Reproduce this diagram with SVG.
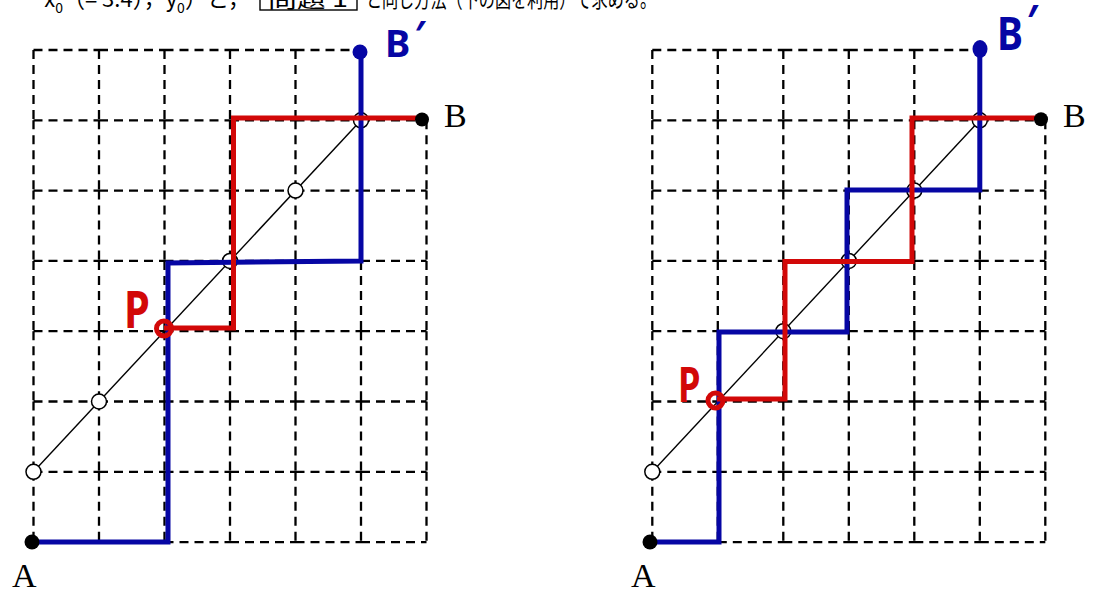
<svg xmlns="http://www.w3.org/2000/svg" xmlns:xlink="http://www.w3.org/1999/xlink" width="1101" height="591" viewBox="0 0 1101 591">
<style>
.grid{fill:none;stroke:#000;stroke-width:2.3;stroke-dasharray:9 6}
.diag{fill:none;stroke:#000;stroke-width:1.4}
.open{fill:#fff;stroke:#000;stroke-width:1.5}
.blue{fill:none;stroke:#0606a4;stroke-width:5;stroke-linejoin:miter}
.red{fill:none;stroke:#d20808;stroke-width:5;stroke-linejoin:miter}
.dot{fill:#000}
.bdot{fill:#0606a4}
.ring{fill:none;stroke:#d20808;stroke-width:5}
.serif{font-family:"Liberation Serif","DejaVu Serif",serif;font-size:34px;fill:#000}
.hand-b{font-family:"Noto Sans","DejaVu Sans",sans-serif;font-weight:bold;fill:#0606a4}
.hand-r{font-family:"Noto Sans","DejaVu Sans",sans-serif;font-weight:bold;fill:#d20808}
.jp{font-family:"Noto Sans CJK JP","Noto Sans",sans-serif;font-size:22px;fill:#000}
</style>
<defs>
<path id="gridpath" class="grid" d="M33.5,50 h65.5 m0,0 h65.5 m0,0 h65.5 m0,0 h65.5 m0,0 h65.5
M33.5,120.3 h65.5 m0,0 h65.5 m0,0 h65.5 m0,0 h65.5 m0,0 h65.5 m0,0 h65.5
M33.5,190.6 h65.5 m0,0 h65.5 m0,0 h65.5 m0,0 h65.5 m0,0 h65.5 m0,0 h65.5
M33.5,260.9 h65.5 m0,0 h65.5 m0,0 h65.5 m0,0 h65.5 m0,0 h65.5 m0,0 h65.5
M33.5,331.2 h65.5 m0,0 h65.5 m0,0 h65.5 m0,0 h65.5 m0,0 h65.5 m0,0 h65.5
M33.5,401.5 h65.5 m0,0 h65.5 m0,0 h65.5 m0,0 h65.5 m0,0 h65.5 m0,0 h65.5
M33.5,471.8 h65.5 m0,0 h65.5 m0,0 h65.5 m0,0 h65.5 m0,0 h65.5 m0,0 h65.5
M33.5,542.1 h65.5 m0,0 h65.5 m0,0 h65.5 m0,0 h65.5 m0,0 h65.5 m0,0 h65.5
M33.5,50 v70.3 m0,0 v70.3 m0,0 v70.3 m0,0 v70.3 m0,0 v70.3 m0,0 v70.3 m0,0 v70.3
M99,50 v70.3 m0,0 v70.3 m0,0 v70.3 m0,0 v70.3 m0,0 v70.3 m0,0 v70.3 m0,0 v70.3
M164.5,50 v70.3 m0,0 v70.3 m0,0 v70.3 m0,0 v70.3 m0,0 v70.3 m0,0 v70.3 m0,0 v70.3
M230,50 v70.3 m0,0 v70.3 m0,0 v70.3 m0,0 v70.3 m0,0 v70.3 m0,0 v70.3 m0,0 v70.3
M295.5,50 v70.3 m0,0 v70.3 m0,0 v70.3 m0,0 v70.3 m0,0 v70.3 m0,0 v70.3 m0,0 v70.3
M361,50 v70.3 m0,0 v70.3 m0,0 v70.3 m0,0 v70.3 m0,0 v70.3 m0,0 v70.3 m0,0 v70.3
M426.5,120.3 v70.3 m0,0 v70.3 m0,0 v70.3 m0,0 v70.3 m0,0 v70.3 m0,0 v70.3"/>
</defs>

<g id="header">
<text class="jp" x="250" y="7" text-anchor="end">x<tspan font-size="14" dy="6">0</tspan><tspan dy="-6">（= 3.4），y</tspan><tspan font-size="14" dy="6">0</tspan><tspan dy="-6">）と，</tspan></text>
<rect x="260" y="-20" width="97" height="30" fill="none" stroke="#000" stroke-width="1.4"/>
<text class="jp" x="268" y="7" textLength="80" lengthAdjust="spacingAndGlyphs">問題 1</text>
<text class="jp" x="366" y="7" textLength="290" lengthAdjust="spacingAndGlyphs">と同じ方法（下の図を利用）で求める。</text>
</g>

<g id="grid-left"><use xlink:href="#gridpath" href="#gridpath"/></g>
<g id="grid-right"><use xlink:href="#gridpath" href="#gridpath" transform="translate(618.8,0)"/></g>

<g id="connectors">
<line class="diag" x1="33.5" y1="471.8" x2="361" y2="120.3"/>
<line class="diag" x1="652.3" y1="471.8" x2="979.8" y2="120.3"/>
</g>

<g id="diagonal-points-left">
<circle class="open" cx="33.5" cy="471.8" r="7.5"/>
<circle class="open" cx="99" cy="401.5" r="7.5"/>
<circle class="open" cx="230" cy="260.9" r="7.5"/>
<circle class="open" cx="295.5" cy="190.6" r="7.5"/>
<circle class="open" cx="361" cy="120.3" r="7.5"/>
</g>
<g id="diagonal-points-right">
<circle class="open" cx="652.3" cy="471.8" r="7.5"/>
<circle class="open" cx="783.3" cy="331.2" r="7.5"/>
<circle class="open" cx="848.8" cy="260.9" r="7.5"/>
<circle class="open" cx="914.3" cy="190.6" r="7.5"/>
<circle class="open" cx="979.8" cy="120.3" r="7.5"/>
</g>

<g id="paths">
<path class="blue" d="M33.5,542 H168 V263 L361,261 V52"/>
<path class="red" d="M423,118 H233.5 V328 H164"/>
<path class="blue" d="M651,542 H719 V332 H847 V190 H979.8 V50"/>
<path class="red" d="M1041,118 H912 V261.5 H785 V399 H717"/>
</g>

<g id="node-A-left"><circle class="dot" cx="32" cy="542" r="7.5"/><text class="serif" x="12" y="587">A</text></g>
<g id="node-B-left"><circle class="dot" cx="422" cy="119.5" r="7"/><text class="serif" x="444" y="127">B</text></g>
<g id="node-Bp-left"><circle class="bdot" cx="360" cy="52" r="7.5"/><text class="hand-b" x="385" y="57" font-size="38">B<tspan dx="4" dy="-9">′</tspan></text></g>
<g id="node-P-left"><circle class="ring" cx="164" cy="328.5" r="7.5"/><text class="hand-r" transform="translate(124,328) scale(0.8,1)" font-size="52">P</text></g>

<g id="node-A-right"><circle class="dot" cx="650" cy="542" r="7.5"/><text class="serif" x="631" y="587">A</text></g>
<g id="node-B-right"><circle class="dot" cx="1041" cy="119.3" r="7"/><text class="serif" x="1063" y="127">B</text></g>
<g id="node-Bp-right"><ellipse class="bdot" cx="980" cy="49" rx="7.5" ry="9"/><text class="hand-b" transform="translate(997,50) scale(0.85,1)" font-size="46">B<tspan dx="4" dy="-12">′</tspan></text></g>
<g id="node-P-right"><circle class="ring" cx="715.5" cy="400.5" r="7.5"/><text class="hand-r" transform="translate(678,402) scale(0.74,1)" font-size="49">P</text></g>
</svg>
